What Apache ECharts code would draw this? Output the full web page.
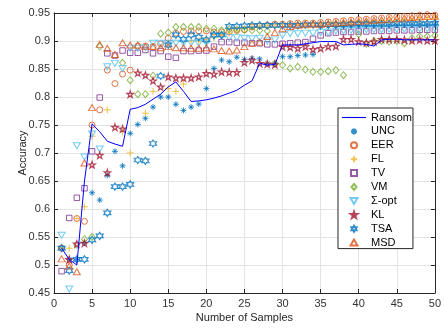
<!DOCTYPE html>
<html>
<head>
<meta charset="utf-8">
<script src="https://cdn.jsdelivr.net/npm/echarts@6/dist/echarts.min.js"></script>
<style>html,body{margin:0;padding:0;background:#fff;}#c{width:444px;height:328px;}</style>
</head>
<body>
<div id="c"></div>
<script>
const samples = [1,2,3,4,5,6,7,8,9,10,11,12,13,14,15,16,17,18,19,20,21,22,23,24,25,26,27,28,29,30,31,32,33,34,35,36,37,38,39,40,41,42,43,44,45,46,47,48,49,50];
const xTicks = [0,5,10,15,20,25,30,35,40,45,50];
const yTicks = [0.45,0.5,0.55,0.6,0.65,0.7,0.75,0.8,0.85,0.9,0.95];

const ransom = [0.53,0.51,0.50,0.65,0.752,0.738,0.721,0.716,0.712,0.778,0.781,0.787,0.796,0.805,0.818,0.827,0.81,0.792,0.793,0.795,0.798,0.802,0.807,0.812,0.821,0.829,0.86,0.857,0.858,0.893,0.893,0.893,0.895,0.897,0.899,0.899,0.899,0.893,0.894,0.895,0.894,0.891,0.902,0.903,0.903,0.902,0.902,0.902,0.902,0.902];
const unc = [0.53,0.51,0.51,0.54,0.629,0.616,0.66,0.703,0.677,0.735,0.751,0.762,0.782,0.80,0.80,0.787,0.776,0.782,0.7875,0.815,0.851,0.866,0.863,0.871,0.867,0.869,0.868,0.86,0.86,0.872,0.872,0.874,0.875,0.876,0.925,0.926,0.926,0.927,0.927,0.928,0.928,0.928,0.929,0.929,0.929,0.93,0.93,0.93,0.93,0.93];
const eer = [0.53,0.50,0.583,0.578,0.75,0.777,0.848,0.824,0.841,0.848,0.891,0.891,0.89,0.895,0.905,0.914,0.917,0.918,0.918,0.918,0.916,0.916,0.916,0.919,0.92,0.925,0.927,0.928,0.93,0.93,0.931,0.932,0.932,0.932,0.933,0.934,0.935,0.936,0.937,0.938,0.939,0.94,0.941,0.942,0.943,0.944,0.945,0.946,0.947,0.946];
const fl = [0.53,0.53,0.583,0.604,0.73,null,0.777,null,0.738,0.70,null,0.771,0.81,null,0.815,0.81,0.823,0.90,0.90,0.903,0.906,0.91,0.914,0.918,0.922,0.925,0.927,0.928,0.929,0.93,0.93,0.931,0.931,0.932,0.932,0.933,0.933,0.934,0.934,0.935,0.935,0.936,0.936,0.937,0.937,0.938,0.938,0.939,0.939,0.94];
const tv = [0.489,0.584,0.62,0.637,0.703,0.799,0.878,0.874,0.883,0.879,0.879,0.884,0.878,0.882,0.872,0.87,0.882,0.882,0.883,0.883,0.89,0.898,0.898,0.897,0.897,0.896,0.896,0.894,0.894,0.895,0.896,0.897,0.898,0.904,0.91,0.914,0.915,0.916,0.916,0.917,0.917,0.918,0.918,0.918,0.919,0.919,0.919,0.92,0.92,0.92];
const vm = [null,null,0.536,0.546,0.55,0.89,null,null,0.861,0.83,0.805,0.805,0.838,0.913,0.915,0.925,0.925,0.925,0.925,0.922,0.922,0.919,0.921,0.92,0.92,0.919,0.919,0.918,0.86,0.857,0.851,0.854,0.849,0.845,0.845,0.846,0.848,0.839,null,0.912,0.895,0.9,0.9,0.899,0.9,0.896,0.905,0.908,0.908,0.91];
const sopt = [0.553,0.457,0.713,0.693,0.734,0.707,0.854,0.86,0.851,0.887,0.887,0.888,0.896,0.896,0.896,0.896,0.896,0.896,0.896,0.896,0.908,0.908,0.906,0.906,0.905,0.904,0.905,0.9,0.902,0.91,0.913,0.913,0.914,0.914,0.915,0.915,0.918,0.918,0.919,0.919,0.92,0.92,0.92,0.921,0.921,0.921,0.921,0.922,0.922,0.922];
const kl = [null,0.51,0.5375,0.539,0.679,0.696,0.665,0.746,0.743,0.805,0.843,0.839,0.829,0.818,0.836,0.834,0.834,0.834,0.836,0.842,0.841,0.845,0.844,0.844,0.862,0.866,0.86,0.859,0.858,0.89,0.889,0.887,0.89,0.885,0.887,0.89,0.891,0.903,0.903,0.899,0.897,0.899,0.903,0.903,0.903,0.902,0.901,0.902,0.901,0.901];
const tsa = [0.53,0.49,0.51,0.51,0.545,0.552,0.593,0.64,0.64,0.644,0.6875,0.686,0.717,0.8375,0.893,0.911,0.903,0.911,0.907,0.902,0.911,0.911,0.926,0.926,0.927,0.928,0.928,0.928,0.928,0.928,0.928,0.928,0.929,0.929,0.929,0.929,0.929,0.929,0.93,0.93,0.93,0.93,0.93,0.93,0.931,0.931,0.931,0.931,0.931,0.932];
const msd = [0.511,0.498,0.488,0.682,0.781,0.894,0.887,0.876,0.897,0.893,0.893,0.89,0.89,0.888,0.89,0.888,0.888,0.887,0.887,0.888,0.886,0.883,0.882,0.884,0.89,0.896,0.898,0.908,0.915,0.922,0.926,0.928,0.929,0.93,0.93,0.931,0.932,0.933,0.934,0.935,0.936,0.937,0.938,0.939,0.94,0.941,0.942,0.943,0.944,0.944];

const pair = arr => arr.map((v,i)=> v==null ? null : [samples[i], v]).filter(p => p);

const SYM = {
  asterisk: 'path://M5,0L5,10M0,5L10,5M1.5,1.5L8.5,8.5M1.5,8.5L8.5,1.5',
  plus: 'path://M5,0L5,10M0,5L10,5',
  square: 'path://M0,0L10,0L10,10L0,10Z',
  diamond: 'path://M5,0L10,6L5,12L0,6Z',
  tup: 'path://M5,0L10,8.66L0,8.66Z',
  tdown: 'path://M0,0L10,0L5,8.66Z',
  pent: 'path://M50,0L61.8,36.2L100,36.2L69.1,58.6L80.9,95.1L50,72.7L19.1,95.1L30.9,58.6L0,36.2L38.2,36.2Z',
  hex: 'path://M50,0L64.43,25L93.3,25L78.87,50L93.3,75L64.43,75L50,100L35.57,75L6.7,75L21.13,50L6.7,25L35.57,25Z',
  line: 'path://M0,0L26,0L26,1.2L0,1.2Z'
};

function sc(name, arr, symbol, size, color, bw) {
  return {
    name, type: 'scatter', data: pair(arr), symbol, symbolSize: size, symbolKeepAspect: false,
    itemStyle: { color: 'none', borderColor: color, borderWidth: bw || 1 },
    emphasis: { disabled: true }
  };
}

const font = 'Liberation Sans, Arial, Helvetica, sans-serif';
const axisCol = '#262626';
const names = ['Ransom','UNC','EER','FL','TV','VM','Σ-opt','KL','TSA','MSD'];

const chart = echarts.init(document.getElementById('c'), null, { renderer: 'canvas' });
chart.setOption({
  animation: false,
  backgroundColor: '#fff',
  grid: { left: 54, right: 5, top: 13, bottom: 35 },
  xAxis: [
    { type: 'value', min: 0, max: 50, interval: 5,
      name: 'Number of Samples', nameLocation: 'middle', nameGap: 19, nameMoveOverlap: false,
      nameTextStyle: { fontSize: 11, color: axisCol, fontFamily: font },
      axisLine: { show: true, lineStyle: { color: axisCol } },
      axisTick: { show: true, inside: true, length: 4, lineStyle: { color: axisCol } },
      axisLabel: { fontSize: 11, color: '#333', fontFamily: font, margin: 5,
        formatter: v => xTicks.includes(v) ? String(v) : '' },
      splitLine: { show: true, lineStyle: { color: '#e3e3e3' } } },
    { type: 'value', position: 'top', min: 0, max: 50, interval: 5,
      axisLine: { show: true, onZero: false, lineStyle: { color: axisCol } },
      axisTick: { show: true, inside: true, length: 4, lineStyle: { color: axisCol } },
      axisLabel: { show: false }, splitLine: { show: false } }
  ],
  yAxis: [
    { type: 'value', min: 0.45, max: 0.95, interval: 0.05,
      name: 'Accuracy', nameLocation: 'middle', nameGap: 26, nameMoveOverlap: false,
      nameTextStyle: { fontSize: 11, color: axisCol, fontFamily: font },
      axisLine: { show: true, lineStyle: { color: axisCol } },
      axisTick: { show: true, inside: true, length: 4, lineStyle: { color: axisCol } },
      axisLabel: { fontSize: 11, color: '#333', fontFamily: font, margin: 4,
        formatter: v => { const t = yTicks.find(y => Math.abs(y - v) < 1e-6); return t == null ? '' : String(t); } },
      splitLine: { show: true, lineStyle: { color: '#e3e3e3' } } },
    { type: 'value', position: 'right', min: 0.45, max: 0.95, interval: 0.05,
      axisLine: { show: true, onZero: false, lineStyle: { color: axisCol } },
      axisTick: { show: true, inside: true, length: 4, lineStyle: { color: axisCol } },
      axisLabel: { show: false }, splitLine: { show: false } }
  ],
  legend: {
    orient: 'vertical', left: 338, top: 108,
    padding: [4, 1, 0.5, 4], itemGap: 2.9, itemWidth: 24, itemHeight: 6,
    symbolKeepAspect: true,
    backgroundColor: '#fff', borderColor: axisCol, borderWidth: 1, borderRadius: 0,
    textStyle: { fontSize: 11, color: '#000', fontFamily: font },
    data: names.map(n => n === 'Ransom'
      ? { name: n, icon: SYM.line, itemStyle: { color: '#0000ff', borderColor: '#0000ff', borderWidth: 0 } }
      : { name: n })
  },
  series: [
    { name: 'Ransom', type: 'line', data: pair(ransom), symbol: 'none', showSymbol: false,
      lineStyle: { color: '#0000ff', width: 1 }, itemStyle: { color: '#0000ff' }, emphasis: { disabled: true } },
    sc('UNC', unc, SYM.asterisk, 6, '#0072BD', 1),
    sc('EER', eer, 'circle', 6, '#D95319', 1),
    sc('FL', fl, SYM.plus, 7, '#EDB120', 1),
    sc('TV', tv, SYM.square, 5.5, '#7E2F8E', 1),
    sc('VM', vm, SYM.diamond, [6, 7], '#77AC30', 1),
    sc('Σ-opt', sopt, SYM.tdown, [7, 6], '#4DBEEE', 1),
    sc('KL', kl, SYM.pent, 6.5, '#A2142F', 1.2),
    sc('TSA', tsa, SYM.hex, 7, '#0072BD', 1.2),
    sc('MSD', msd, SYM.tup, [7, 6], '#D95319', 1)
  ]
});
</script>
</body>
</html>
